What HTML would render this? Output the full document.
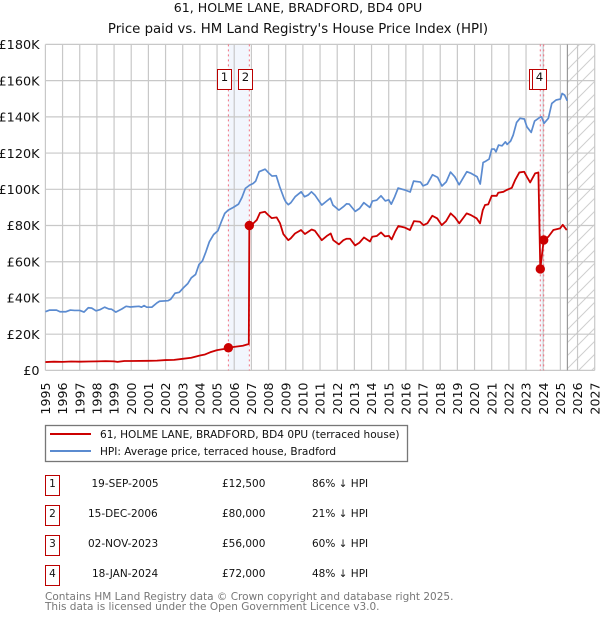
<!DOCTYPE html>
<html>
<head>
<meta charset="utf-8">
<title>61, Holme Lane chart</title>
<style>
html,body{margin:0;padding:0;background:#fff;}
svg{display:block;font-family:"DejaVu Sans","Liberation Sans",sans-serif;}
</style>
</head>
<body>
<svg id="chart" width="600" height="620" viewBox="0 0 600 620" xmlns="http://www.w3.org/2000/svg">
<defs>
<pattern id="hatch" patternUnits="userSpaceOnUse" width="13" height="13">
<path d="M-2 15L15 -2M-2 2L2 -2M11 15L15 11" stroke="#cfcfcf" stroke-width="1" fill="none"/>
</pattern>
</defs>
<text x="298" y="12" text-anchor="middle" font-size="12.6" fill="#111">61, HOLME LANE, BRADFORD, BD4 0PU</text>
<text x="298" y="33" text-anchor="middle" font-size="13.3" fill="#111">Price paid vs. HM Land Registry's House Price Index (HPI)</text>
<g id="plot"></g>

<g>
<rect x="45.5" y="425.5" width="362" height="36" fill="#fff" stroke="#777" stroke-width="1.3"/>
<line x1="50" x2="91" y1="434" y2="434" stroke="#cc0000" stroke-width="2"/>
<text x="100" y="438" font-size="10.55" fill="#111">61, HOLME LANE, BRADFORD, BD4 0PU (terraced house)</text>
<line x1="50" x2="91" y1="451" y2="451" stroke="#5b8bd0" stroke-width="2"/>
<text x="100" y="455" font-size="10.55" fill="#111">HPI: Average price, terraced house, Bradford</text>
</g>

<g font-size="10.5" fill="#111">
<g>
<rect x="45.5" y="475.5" width="14" height="20" fill="#fff" stroke="#bb0000" stroke-width="1"/>
<text x="52.5" y="487" text-anchor="middle">1</text>
<text x="91.5" y="487">19-SEP-2005</text>
<text x="222" y="487">£12,500</text>
<text x="312" y="487">86% ↓ HPI</text>
</g>
<g>
<rect x="45.5" y="505.5" width="14" height="20" fill="#fff" stroke="#bb0000" stroke-width="1"/>
<text x="52.5" y="517" text-anchor="middle">2</text>
<text x="88" y="517">15-DEC-2006</text>
<text x="222" y="517">£80,000</text>
<text x="312" y="517">21% ↓ HPI</text>
</g>
<g>
<rect x="45.5" y="535.5" width="14" height="20" fill="#fff" stroke="#bb0000" stroke-width="1"/>
<text x="52.5" y="547" text-anchor="middle">3</text>
<text x="88" y="547">02-NOV-2023</text>
<text x="222" y="547">£56,000</text>
<text x="312" y="547">60% ↓ HPI</text>
</g>
<g>
<rect x="45.5" y="565.5" width="14" height="20" fill="#fff" stroke="#bb0000" stroke-width="1"/>
<text x="52.5" y="577" text-anchor="middle">4</text>
<text x="92" y="577">18-JAN-2024</text>
<text x="222" y="577">£72,000</text>
<text x="312" y="577">48% ↓ HPI</text>
</g>
</g>
<text x="45" y="600" font-size="10.5" fill="#777">Contains HM Land Registry data © Crown copyright and database right 2025.</text>
<text x="45" y="610" font-size="10.5" fill="#777">This data is licensed under the Open Government Licence v3.0.</text>
</svg>

<script>
const yearTicks = [1995,1996,1997,1998,1999,2000,2001,2002,2003,2004,2005,2006,2007,2008,2009,2010,2011,2012,2013,2014,2015,2016,2017,2018,2019,2020,2021,2022,2023,2024,2025,2026,2027];
const valueTicks = [0,20,40,60,80,100,120,140,160,180];
const valueTickLabels = ['£0','£20K','£40K','£60K','£80K','£100K','£120K','£140K','£160K','£180K'];

const hpiDates = [1995,1995.25,1995.65,1995.85,1996.2,1996.45,1996.7,1997,1997.25,1997.5,1997.7,1997.95,1998.2,1998.45,1998.7,1998.85,1999.1,1999.45,1999.7,1999.95,2000.2,2000.45,2000.6,2000.75,2000.9,2001.2,2001.5,2001.65,2002.15,2002.3,2002.55,2002.8,2003.05,2003.3,2003.5,2003.75,2003.95,2004.15,2004.35,2004.55,2004.8,2005.05,2005.25,2005.45,2005.65,2005.95,2006.25,2006.45,2006.65,2006.9,2007.1,2007.25,2007.45,2007.8,2008,2008.2,2008.45,2008.65,2008.9,2009,2009.15,2009.3,2009.55,2009.9,2010.1,2010.3,2010.5,2010.7,2011.1,2011.4,2011.6,2011.75,2012.1,2012.35,2012.55,2012.7,2013.05,2013.3,2013.55,2013.9,2014.05,2014.3,2014.55,2014.8,2015,2015.15,2015.35,2015.55,2015.95,2016.25,2016.45,2016.85,2017,2017.25,2017.55,2017.85,2018.1,2018.35,2018.6,2018.85,2019.1,2019.55,2019.8,2020.15,2020.33,2020.5,2020.65,2020.85,2021,2021.15,2021.25,2021.4,2021.6,2021.8,2021.9,2022.1,2022.25,2022.45,2022.65,2022.9,2023.05,2023.3,2023.5,2023.8,2023.9,2024.05,2024.3,2024.5,2024.75,2025,2025.1,2025.25,2025.4];
const hpiValues = [32.4,33.3,33.3,32.4,32.4,33.3,33.1,33.1,32.2,34.6,34.4,32.9,33.6,34.9,33.9,33.8,32.2,33.9,35.4,35,35.2,35.4,34.9,35.8,34.9,34.9,37.3,38.2,38.5,39.3,42.6,43.1,45.7,48,51.1,53,58.5,60.5,65.5,71,75,77.1,82.1,86.7,88.5,90,91.8,95.5,100.5,102.3,103.2,104.5,109.7,111.1,109.1,107.3,107.5,101.4,95,93.1,91.5,92.6,95.9,98.6,95.9,96.8,98.6,96.8,91.3,93.6,95.1,91.3,88.5,90.3,92,91.8,87.8,89.4,92.6,90,93.5,94,96.4,93.6,94.2,91.8,95.9,100.7,99.6,98.5,104.5,104,101.9,102.9,108,106.6,101.8,104.1,109.5,106.9,102.5,109.7,108.8,106.9,102.9,114.8,115.5,116.7,122.2,122.2,120.7,124.4,124,126.2,124.8,126.6,129.9,136.9,139.2,138.8,134.5,131.4,137.7,139.7,140,136.4,139.2,147.4,149.3,149.8,152.9,152,148.9];

const priceDates = [1995,1995.5,1996,1996.5,1997,1997.5,1998,1998.5,1999,1999.2,1999.6,2000,2001,2001.5,2002,2002.5,2003,2003.5,2004,2004.3,2004.6,2005,2005.4,2005.66,2006,2006.5,2006.85,2006.88,2007.11,2007.31,2007.5,2007.79,2007.98,2008.18,2008.47,2008.67,2008.86,2009.02,2009.15,2009.29,2009.54,2009.89,2010.12,2010.51,2010.7,2011.1,2011.39,2011.62,2011.77,2012.1,2012.36,2012.55,2012.75,2013.04,2013.29,2013.56,2013.91,2014.04,2014.3,2014.55,2014.78,2015.01,2015.17,2015.37,2015.56,2015.95,2016.24,2016.47,2016.82,2017.02,2017.25,2017.54,2017.83,2018.09,2018.34,2018.61,2018.86,2019.11,2019.54,2019.78,2020.13,2020.32,2020.48,2020.61,2020.8,2021,2021.29,2021.38,2021.68,2021.87,2022.17,2022.36,2022.61,2022.89,2023.05,2023.24,2023.53,2023.72,2023.83,2024.03,2024.3,2024.59,2024.98,2025.14,2025.37];
const priceValues = [4.6,4.8,4.7,4.9,4.8,4.9,5,5.1,5,4.7,5.2,5.2,5.3,5.4,5.7,5.8,6.4,7,8.2,8.8,10,11.2,11.8,12.5,13,13.6,14.6,80,81.2,83,87,87.6,85.8,84.1,84.5,81.2,75.3,73.4,71.9,72.9,75.6,77.5,75.3,77.8,77.1,71.9,74.2,75.6,71.9,69.6,71.9,72.7,72.7,69,70.5,73.4,71.2,73.8,74.2,76.2,74,74.3,72.3,76.5,79.7,78.8,77.5,82.4,82.1,80.2,81.2,85.4,83.9,80.2,82.4,86.7,84.5,81.2,86.7,85.8,83.9,81.2,88.5,91.3,91.7,96.4,96.4,98.1,98.6,99.6,100.8,105,109.3,109.7,106.9,103.8,108.8,109.3,56,72,73.8,77.5,78.4,80.4,77.5];

const saleLabels = ['1','2','3','4'];
const saleDates = [2005.66,2006.88,2023.83,2024.03];
const saleValues = [12.5,80,56,72];
const lastDataDate = 2025.41;

const SVGNS = 'http://www.w3.org/2000/svg';
const plot = document.getElementById('plot');
const x0 = 45.4, x1 = 594.7, y0 = 370.4, y1 = 44.4;
const minYear = yearTicks[0], maxYear = yearTicks[yearTicks.length - 1];
const maxValue = valueTicks[valueTicks.length - 1];
function xScale(year) { return x0 + (year - minYear) / (maxYear - minYear) * (x1 - x0); }
function yScale(value) { return y0 - value / maxValue * (y0 - y1); }
function make(tag, parent) {
  const el = document.createElementNS(SVGNS, tag);
  parent.appendChild(el);
  return el;
}
function setAll(el, attrs) {
  Object.keys(attrs).forEach(function (k) { el.setAttribute(k, attrs[k]); });
}
function pointsOf(dates, values) {
  return dates.map(function (d, i) { return xScale(d).toFixed(2) + ',' + yScale(values[i]).toFixed(2); }).join(' ');
}

/* shaded bands between sale dates */
[[0, 1], [2, 3]].forEach(function (pair) {
  const band = make('rect', plot);
  
  
  setAll(band, { x: xScale(saleDates[pair[0]]), y: y1, width: xScale(saleDates[pair[1]]) - xScale(saleDates[pair[0]]), height: y0 - y1, fill: '#dfe9fb', 'fill-opacity': 0.4 });
});

/* forecast hatch */
const hatch = make('rect', plot);


setAll(hatch, { x: xScale(lastDataDate), y: y1, width: x1 - xScale(lastDataDate), height: y0 - y1, fill: 'url(#hatch)' });

/* grid + tick labels */
yearTicks.forEach(function (yr) {
  const g = make('line', plot);
  
  
  setAll(g, { x1: xScale(yr), x2: xScale(yr), y1: y1, y2: y0, stroke: '#c8c8c8', 'stroke-width': 1.2 });
  const t = make('text', plot);
  
  
  setAll(t, { 'font-size': 12.6, fill: '#111', 'text-anchor': 'end', transform: 'translate(' + (xScale(yr) + 4.6) + ',382.5) rotate(-90)' });
  t.textContent = String(yr);
});
valueTicks.forEach(function (v, i) {
  const g = make('line', plot);
  
  
  setAll(g, { x1: x0, x2: x1, y1: yScale(v), y2: yScale(v), stroke: '#c8c8c8', 'stroke-width': 1.2 });
  const t = make('text', plot);
  
  
  setAll(t, { x: 39.5, y: yScale(v) + 4.7, 'font-size': 12.8, fill: '#111', 'text-anchor': 'end' });
  t.textContent = valueTickLabels[i];
});

/* last-data line */
const endLine = make('line', plot);


setAll(endLine, { x1: xScale(lastDataDate), x2: xScale(lastDataDate), y1: y1, y2: y0, stroke: '#999', 'stroke-width': 1.2 });

/* sale dotted lines */
saleDates.forEach(function (d) {
  const l = make('line', plot);
  
  
  setAll(l, { x1: xScale(d), x2: xScale(d), y1: y1, y2: y0, stroke: '#f2707f', 'stroke-width': 1, 'stroke-dasharray': '2,3' });
});

/* series */
const hpiLine = make('polyline', plot);


setAll(hpiLine, { points: pointsOf(hpiDates, hpiValues), fill: 'none', stroke: '#5b8bd0', 'stroke-width': 1.7, 'stroke-linejoin': 'round' });

const priceLine = make('polyline', plot);


setAll(priceLine, { points: pointsOf(priceDates, priceValues), fill: 'none', stroke: '#cc0000', 'stroke-width': 1.8, 'stroke-linejoin': 'round' });

/* sale markers */
saleDates.forEach(function (d, i) {
  const c = make('circle', plot);
  
  
  setAll(c, { cx: xScale(d), cy: yScale(saleValues[i]), r: 4.7, fill: '#cc0000' });
});

/* numbered badges */
saleDates.forEach(function (d, i) {
  const cx = Math.round(xScale(d) - 3.5) - 0.5;
  const r = make('rect', plot);
  
  
  setAll(r, { x: cx - 7, y: 69.5, width: 14, height: 20, fill: '#fff', stroke: '#bb0000', 'stroke-width': 1 });
  const t = make('text', plot);
  
  
  setAll(t, { x: cx, y: 81, 'font-size': 11.7, fill: '#111', 'text-anchor': 'middle' });
  t.textContent = saleLabels[i];
});
</script>
</body>
</html>
